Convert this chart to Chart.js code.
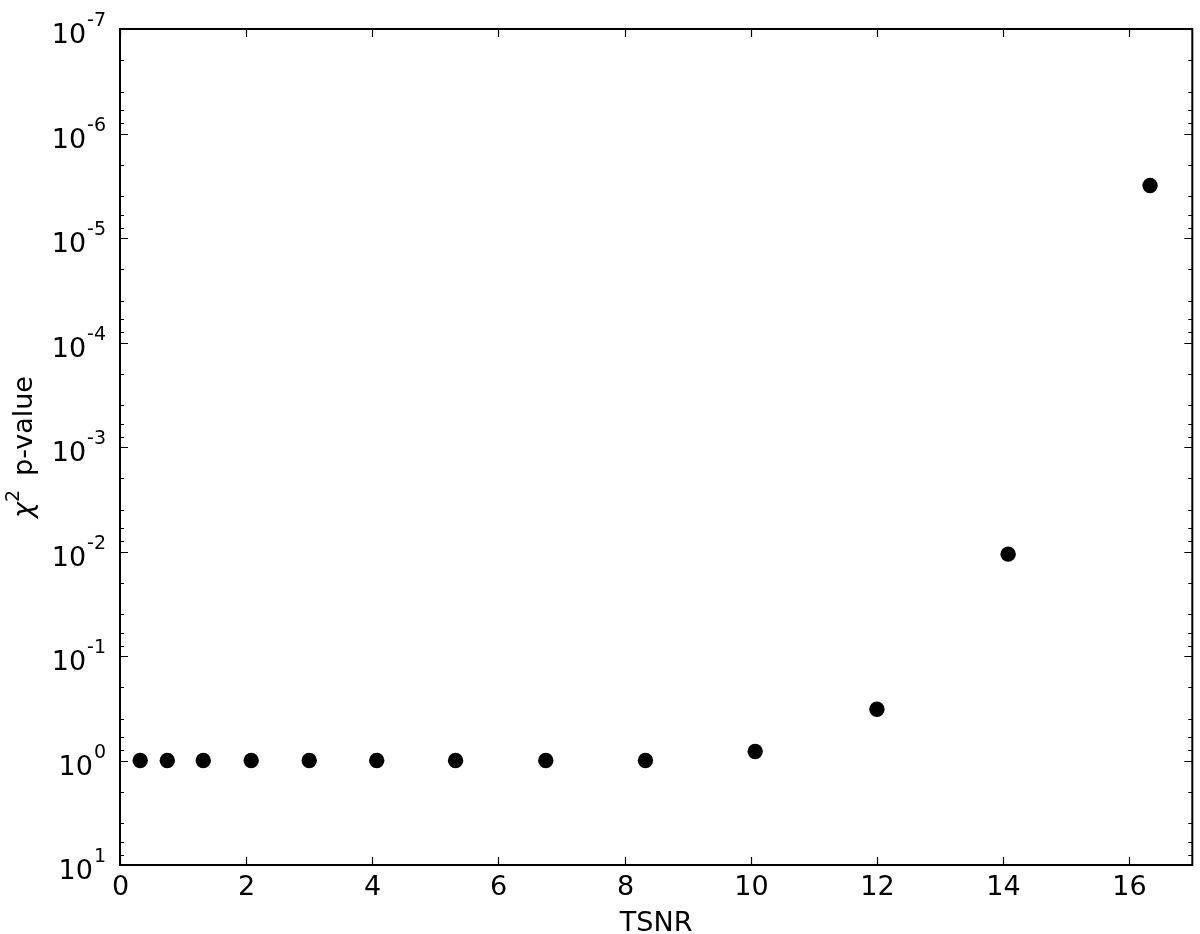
<!DOCTYPE html>
<html>
<head>
<meta charset="utf-8">
<script src="https://cdn.jsdelivr.net/npm/chart.js@4.4.0/dist/chart.umd.min.js"></script>
<style>
  html, body { margin: 0; padding: 0; background: #fff; }
  #wrap { width: 1200px; height: 934px; }
</style>
</head>
<body>
<div id="wrap"><canvas id="chart" width="1200" height="934"></canvas></div>
<script>
// =============================
// Data
// =============================
const tsnr   = [0.32, 0.75, 1.32, 2.08, 3.0, 4.07, 5.32, 6.75, 8.33, 10.07, 12.0, 14.08, 16.33];
const pValue = [1, 1, 1, 1, 1, 1, 1, 1, 1, 0.82, 0.323, 0.0106, 3.15e-6];

// tick labels
const xTicks     = [0, 2, 4, 6, 8, 10, 12, 14, 16];
const yExponents = [-7, -6, -5, -4, -3, -2, -1, 0, 1];
const yMinorSubs = [2, 4, 6, 8];

const xTitle = "TSNR";
const yTitleSym = "χ";
const yTitleSup = "2";
const yTitleRest = "p-value";

const FONT = "'DejaVu Sans', sans-serif";

// =============================
// Frame, inward ticks, labels
// =============================
const axesPlugin = {
  id: "axesPlugin",
  afterDraw(chart) {
    const ctx = chart.ctx;
    const a = chart.chartArea;
    const xs = chart.scales.x, ys = chart.scales.y;
    ctx.save();
    ctx.strokeStyle = "#000";
    ctx.fillStyle = "#000";

    // frame
    ctx.lineWidth = 2;
    ctx.strokeRect(a.left, a.top, a.right - a.left, a.bottom - a.top);

    // x ticks + labels
    ctx.lineWidth = 1.2;
    ctx.font = "27px " + FONT;
    ctx.textAlign = "center";
    ctx.textBaseline = "alphabetic";
    xTicks.forEach(v => {
      const px = Math.round(xs.getPixelForValue(v)) + 0.5;
      ctx.beginPath();
      ctx.moveTo(px, a.bottom); ctx.lineTo(px, a.bottom - 8);
      ctx.moveTo(px, a.top); ctx.lineTo(px, a.top + 8);
      ctx.stroke();
      ctx.fillText(String(v), px, a.bottom + 30);
    });

    // y major + minor ticks
    yExponents.forEach((e, i) => {
      const py = Math.round(ys.getPixelForValue(Math.pow(10, e))) + 0.5;
      ctx.beginPath();
      ctx.moveTo(a.left, py); ctx.lineTo(a.left + 8, py);
      ctx.moveTo(a.right, py); ctx.lineTo(a.right - 8, py);
      ctx.stroke();
      if (i < yExponents.length - 1) {
        yMinorSubs.forEach(s => {
          const my = Math.round(ys.getPixelForValue(s * Math.pow(10, e))) + 0.5;
          ctx.beginPath();
          ctx.moveTo(a.left, my); ctx.lineTo(a.left + 4, my);
          ctx.moveTo(a.right, my); ctx.lineTo(a.right - 4, my);
          ctx.stroke();
        });
      }
      // label 10^e
      const sup = String(e);
      ctx.font = "19px " + FONT;
      const ws = ctx.measureText(sup).width;
      const right = 106;
      ctx.textAlign = "left";
      ctx.fillText(sup, right - ws, py - 4);
      ctx.font = "27px " + FONT;
      ctx.textAlign = "right";
      ctx.fillText("10", right - ws - 1, py + 13);
    });

    // x title
    ctx.font = "27px " + FONT;
    ctx.textAlign = "center";
    ctx.fillText(xTitle, (a.left + a.right) / 2, a.bottom + 66);

    // y title (rotated)
    ctx.translate(32, (a.top + a.bottom) / 2);
    ctx.rotate(-Math.PI / 2);
    ctx.textAlign = "left";
    ctx.font = "italic 27px " + FONT;
    const wSym = ctx.measureText(yTitleSym).width;
    ctx.font = "19px " + FONT;
    const wSup = ctx.measureText(yTitleSup).width;
    ctx.font = "27px " + FONT;
    const wRest = ctx.measureText(yTitleRest).width;
    const gap = 14;
    let u = -(wSym + wSup + gap + wRest) / 2;
    ctx.font = "italic 27px " + FONT;
    ctx.fillText(yTitleSym, u, 0);
    u += wSym;
    ctx.font = "19px " + FONT;
    ctx.fillText(yTitleSup, u, -13);
    u += wSup + gap;
    ctx.font = "27px " + FONT;
    ctx.fillText(yTitleRest, u, 0);

    ctx.restore();
  }
};

// =============================
// Chart
// =============================
new Chart(document.getElementById("chart"), {
  type: "scatter",
  data: {
    datasets: [{
      data: tsnr.map((x, i) => ({ x: x, y: pValue[i] })),
      backgroundColor: "#000",
      borderWidth: 0,
      pointRadius: 7.7,
      pointHoverRadius: 7.7,
      clip: false
    }]
  },
  options: {
    responsive: false,
    animation: false,
    events: [],
    layout: { padding: { top: 29, right: 7, left: 0, bottom: 0 } },
    plugins: { legend: { display: false }, tooltip: { enabled: false } },
    scales: {
      x: {
        type: "linear", min: 0, max: 17,
        ticks: { display: false },
        grid: { display: false },
        border: { display: false },
        afterFit: s => { s.height = 69; }
      },
      y: {
        type: "logarithmic", reverse: true, min: 1e-7, max: 10,
        ticks: { display: false },
        grid: { display: false },
        border: { display: false },
        afterFit: s => { s.width = 120; }
      }
    }
  },
  plugins: [axesPlugin]
});
</script>
</body>
</html>
